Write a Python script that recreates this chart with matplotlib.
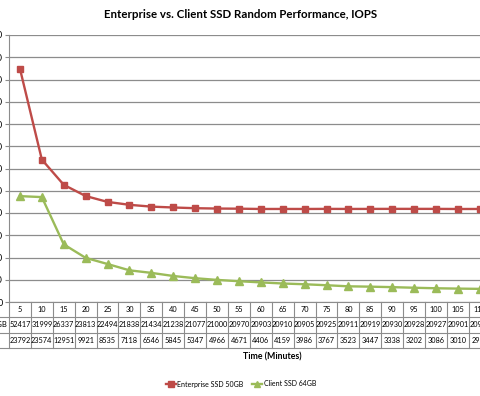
import matplotlib
matplotlib.use("Agg")
import matplotlib.pyplot as plt
from matplotlib.lines import Line2D

minutos = [5, 10, 15, 20, 25, 30, 35, 40, 45, 50, 55, 60,
           65, 70, 75, 80, 85, 90, 95, 100, 105, 110, 115]
enterprise = [52417, 31999, 26337, 23813, 22494, 21838, 21434, 21238, 21077, 21000, 20970, 20903,
              20910, 20905, 20925, 20911, 20919, 20930, 20928, 20927, 20901, 20906, 20905]
client = [23792, 23574, 12951, 9921, 8535, 7118, 6546, 5845, 5347, 4966, 4671, 4406,
          4159, 3986, 3767, 3523, 3447, 3338, 3202, 3086, 3010, 2950, 2900]
nombres = ['Enterprise SSD 50GB', 'Client SSD 64GB']
yticks = list(range(0, 60001, 5000))

ROJO = '#BE4B48'
VERDE = '#9BBB59'
GRIS = '#8C8C8C'
plt.rcParams['font.family'] = ['Lato', 'DejaVu Sans']

W, H = 480, 396
fig = plt.figure(figsize=(W / 100, H / 100), dpi=100)

# area de trazado: empieza en x=9 px y sigue fuera de la imagen
n_cols = 24
col_px = 21.9
ax_left, ax_top, ax_bot = 9, 35, 302
ax = fig.add_axes([ax_left / W, 1 - ax_bot / H, n_cols * col_px / W, (ax_bot - ax_top) / H])

x = list(range(len(minutos)))
ax.plot(x, enterprise, color=ROJO, lw=1.7, marker='s', ms=5, label=nombres[0], clip_on=False)
ax.plot(x, client, color=VERDE, lw=1.7, marker='^', ms=5.5, label=nombres[1], clip_on=False)

ax.set_xlim(-0.5, n_cols - 0.5)
ax.set_ylim(0, 60000)
ax.set_yticks(yticks)
ax.set_yticklabels([str(v) for v in yticks], fontsize=6.5)
ax.tick_params(axis='y', length=3, pad=1.5, color=GRIS)
ax.set_xticks([])
ax.grid(axis='y', color=GRIS, lw=0.9)
ax.set_axisbelow(True)
for s in ['top', 'right']:
    ax.spines[s].set_visible(False)
for s in ['left', 'bottom']:
    ax.spines[s].set_color(GRIS)

# tabla de datos debajo del eje
fila_px = 15.3
alto = ax_bot - ax_top
def ya(px):
    return -px / alto

trans = ax.get_xaxis_transform()
for k in range(1, 4):
    ax.plot([-5, n_cols - 0.5], [ya(k * fila_px)] * 2, color=GRIS, lw=0.8,
            transform=trans, clip_on=False)
for c in range(n_cols + 1):
    ax.plot([c - 0.5] * 2, [0, ya(3 * fila_px)], color=GRIS, lw=0.8,
            transform=trans, clip_on=False)

filas = [minutos, enterprise, client]
for r, fila in enumerate(filas):
    yc = ya((r + 0.5) * fila_px)
    for i, v in enumerate(fila):
        ax.text(i, yc, str(v), ha='center', va='center', fontsize=5.3,
                transform=trans, clip_on=False)

# etiquetas de fila alineadas a la izquierda, casi todas fuera de la imagen
etiquetas = []
for r, nom in enumerate(nombres):
    etiquetas.append(fig.text(0, 1 - (ax_bot + (r + 1.5) * fila_px) / H, nom,
                              ha='left', va='center', fontsize=5.5))
fig.canvas.draw()
ancho = etiquetas[0].get_window_extent().width
for t in etiquetas:
    t.set_x((7 - ancho) / W)

fig.text(241 / W, 1 - 15 / H, 'Enterprise vs. Client SSD Random Performance, IOPS',
         ha='center', va='center', fontsize=8.3, fontweight='bold')
fig.text(272 / W, 1 - 357 / H, 'Time (Minutes)', ha='center', va='center',
         fontsize=6.3, fontweight='bold')

handles = [Line2D([], [], color=ROJO, lw=1.7, marker='s', ms=4),
           Line2D([], [], color=VERDE, lw=1.7, marker='^', ms=4.5)]
fig.legend(handles, nombres, loc='center', bbox_to_anchor=(241 / W, 1 - 384 / H), ncol=2,
           frameon=False, fontsize=5, handlelength=1.4, handletextpad=0.2, columnspacing=1.3)

fig.savefig('out.png', dpi=100)
